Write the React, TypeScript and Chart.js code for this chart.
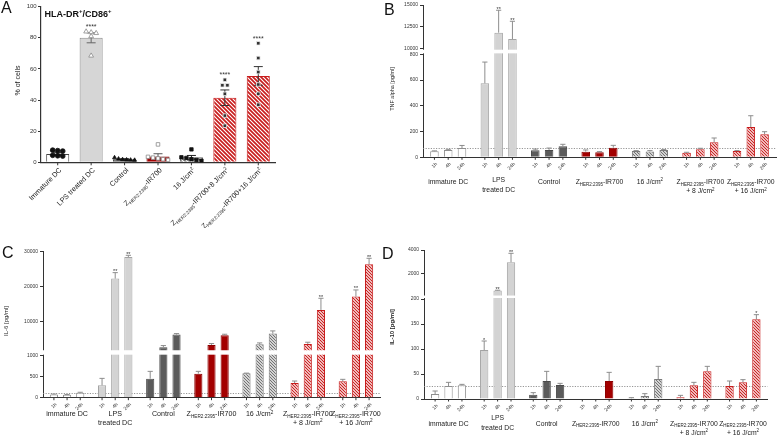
import React, { useEffect, useRef } from 'react';
import { Chart, registerables, LinearScale } from 'chart.js';

const FONT = 'Arial, "Liberation Sans", Helvetica, sans-serif';

// ---------------- Panel A data ----------------
const A_LABELS = [
  'Immature DC',
  'LPS treated DC',
  'Control',
  'Z_{HER2:2395}-IR700',
  '16 J/cm^{2}',
  'Z_{HER2:2395}-IR700+8 J/cm^{2}',
  'Z_{HER2:2395}-IR700+16 J/cm^{2}',
];
const A_MEAN = [5.3, 80, 2.0, 3.8, 3.2, 41.5, 55.5];
const A_SEM = [0.8, 3.2, 0.3, 1.7, 1.2, 5.0, 6.0];
const A_STARS = ['', '****', '', '', '', '****', '****'];
const A_PTS_IMMATURE = [7.8, 7.5, 7.2, 4.5, 4.2, 4.0];
const A_PTS_LPS = [84, 83.5, 83, 81, 68.5];
const A_PTS_CONTROL = [3.0, 2.2, 1.8, 1.6, 1.5, 1.4];
const A_PTS_ZHER = [11.5, 3.5, 3.0, 2.5, 2.0, 1.5];
const A_PTS_16J = [8.3, 3.2, 2.8, 2.0, 1.5, 1.0];
const A_PTS_ZHER_8J = [53, 49.5, 49.5, 44, 30, 23.5];
const A_PTS_ZHER_16J = [76.5, 67, 58, 50, 44, 37];
const A_POINTS = [A_PTS_IMMATURE, A_PTS_LPS, A_PTS_CONTROL, A_PTS_ZHER, A_PTS_16J, A_PTS_ZHER_8J, A_PTS_ZHER_16J];
const A_Y_MAX = 100;
const A_Y_STEP = 20;

// ---------------- Panels B-D common ----------------
const GROUPS = [
  'immature DC',
  'LPS\ntreated DC',
  'Control',
  'Z_{HER2:2395}-IR700',
  '16 J/cm^{2}',
  'Z_{HER2:2395}-IR700\n+ 8 J/cm^{2}',
  'Z_{HER2:2395}-IR700\n+ 16 J/cm^{2}',
];
const TIMES = ['1h', '4h', '24h'];

// B: TNF alpha
const TNF_1H = [47, 575, 54, 44, 49, 36, 49];
const TNF_4H = [57, 11835, 57, 39, 46, 62, 235];
const TNF_24H = [72, 11110, 85, 75, 57, 116, 179];
const TNF_ERR_1H = [3, 165, 10, 13, 3, 3, 3];
const TNF_ERR_4H = [5, 2565, 15, 5, 6, 8, 88];
const TNF_ERR_24H = [20, 2030, 16, 18, 3, 34, 20];
const TNF_STARS_1H = ['', '', '', '', '', '', ''];
const TNF_STARS_4H = ['', '**', '', '', '', '', ''];
const TNF_STARS_24H = ['', '**', '', '', '', '', ''];
const TNF_TICKS = [0, 200, 400, 600, 800, 10000, 12500, 15000];
const TNF_REF = 75;

// C: IL-6
const IL6_1H = [79, 294, 452, 572, 580, 349, 389];
const IL6_4H = [71, 22190, 2571, 3240, 3430, 3520, 17050];
const IL6_24H = [119, 28380, 6190, 6000, 6480, 13240, 26290];
const IL6_ERR_1H = [8, 166, 175, 55, 5, 48, 48];
const IL6_ERR_4H = [6, 1710, 480, 380, 380, 480, 1900];
const IL6_ERR_24H = [10, 480, 290, 290, 760, 3330, 1710];
const IL6_STARS_1H = ['', '', '', '', '', '', ''];
const IL6_STARS_4H = ['', '**', '', '', '', '', '**'];
const IL6_STARS_24H = ['', '**', '', '', '', '**', '**'];
const IL6_TICKS = [0, 500, 1000, 10000, 20000, 30000];
const IL6_REF = 119;

// D: IL-10
const IL10_1H = [10, 98, 8.7, 0, 1.3, 3.3, 26];
const IL10_4H = [26, 540, 36, 0.8, 6, 27.3, 33.3];
const IL10_24H = [27.3, 2958, 28, 36, 40, 55.3, 159.3];
const IL10_ERR_1H = [6, 18, 4, 0, 1.4, 4, 10];
const IL10_ERR_4H = [7.3, 30, 19.3, 0, 4.7, 6, 5.4];
const IL10_ERR_24H = [2, 760, 3.3, 17.3, 25.3, 10, 9.4];
const IL10_STARS_1H = ['', '*', '', '', '', '', ''];
const IL10_STARS_4H = ['', '**', '', '', '', '', ''];
const IL10_STARS_24H = ['', '**', '', '', '', '', '*'];
const IL10_TICKS = [0, 50, 100, 150, 200, 2000, 4000];
const IL10_REF = 26.7;

// ---------------- helpers ----------------
type Brk = { lowMax: number; highMin: number; highMax: number; lowFrac: number; gapFrac: number; ticks: number[] };

class BrokenScale extends (LinearScale as any) {
  static id = 'broken';
  static defaults = (LinearScale as any).defaults;
  brk(): Brk {
    return (this as any).chart.canvas.__brk;
  }
  toDec(v: number) {
    const b = this.brk();
    if (v <= b.lowMax) return (v / b.lowMax) * b.lowFrac;
    if (v < b.highMin) return b.lowFrac + (b.gapFrac * (v - b.lowMax)) / (b.highMin - b.lowMax);
    return b.lowFrac + b.gapFrac + ((v - b.highMin) / (b.highMax - b.highMin)) * (1 - b.lowFrac - b.gapFrac);
  }
  getPixelForValue(value: any) {
    if (value === null || value === undefined || Number.isNaN(+value)) return NaN;
    return (this as any).getPixelForDecimal(this.toDec(+value));
  }
  getValueForPixel(pixel: number) {
    const b = this.brk();
    const d = (this as any).getDecimalForPixel(pixel);
    if (d <= b.lowFrac) return (d / b.lowFrac) * b.lowMax;
    if (d < b.lowFrac + b.gapFrac) return b.lowMax;
    return b.highMin + ((d - b.lowFrac - b.gapFrac) / (1 - b.lowFrac - b.gapFrac)) * (b.highMax - b.highMin);
  }
  buildTicks() {
    return this.brk().ticks.map((v) => ({ value: v }));
  }
}

Chart.register(...registerables, BrokenScale as any);

function parseRich(s: string) {
  const out: { t: string; k: number }[] = [];
  let i = 0;
  let buf = '';
  while (i < s.length) {
    const c = s[i];
    if ((c === '_' || c === '^') && s[i + 1] === '{') {
      if (buf) {
        out.push({ t: buf, k: 0 });
        buf = '';
      }
      const end = s.indexOf('}', i + 2);
      out.push({ t: s.slice(i + 2, end), k: c === '_' ? 1 : 2 });
      i = end + 1;
    } else {
      buf += c;
      i++;
    }
  }
  if (buf) out.push({ t: buf, k: 0 });
  return out;
}

function drawRich(ctx: CanvasRenderingContext2D, s: string, x: number, y: number, size: number, align: string, weight = 'normal', color = '#222') {
  const segs = parseRich(s);
  const small = size * 0.66;
  let w = 0;
  for (const g of segs) {
    ctx.font = `${weight} ${g.k ? small : size}px ${FONT}`;
    w += ctx.measureText(g.t).width;
  }
  let cx = align === 'center' ? x - w / 2 : align === 'right' ? x - w : x;
  ctx.textAlign = 'left';
  ctx.textBaseline = 'alphabetic';
  ctx.fillStyle = color;
  for (const g of segs) {
    ctx.font = `${weight} ${g.k ? small : size}px ${FONT}`;
    const dy = g.k === 1 ? size * 0.25 : g.k === 2 ? -size * 0.4 : 0;
    ctx.fillText(g.t, cx, y + dy);
    cx += ctx.measureText(g.t).width;
  }
}

function hatch(ctx: CanvasRenderingContext2D, fg: string, size: number, lw: number) {
  const c = document.createElement('canvas');
  c.width = size;
  c.height = size;
  const g = c.getContext('2d')!;
  g.fillStyle = '#ffffff';
  g.fillRect(0, 0, size, size);
  g.strokeStyle = fg;
  g.lineWidth = lw;
  g.beginPath();
  for (const k of [-size, 0, size]) {
    g.moveTo(-1, -1 + k);
    g.lineTo(size + 1, size + 1 + k);
  }
  g.stroke();
  return ctx.createPattern(c, 'repeat')!;
}

function swarm(vals: number[], center: number, tol: number, step: number, maxSpan: number) {
  const sorted = [...vals].sort((a, b) => b - a);
  const rows: number[][] = [];
  for (const v of sorted) {
    const r = rows[rows.length - 1];
    if (r && Math.abs(r[0] - v) < tol) r.push(v);
    else rows.push([v]);
  }
  const out: { x: number; y: number }[] = [];
  for (const r of rows) {
    const s = r.length > 1 ? Math.min(step, maxSpan / (r.length - 1)) : 0;
    r.forEach((v, k) => out.push({ x: center + (k - (r.length - 1) / 2) * s, y: v }));
  }
  return out;
}

// ---------------- Panel A ----------------
const A_LAYOUT = { yW: 41, padTop: 6.7, padRight: 105, xH: 65.7 };

function buildA(canvas: HTMLCanvasElement) {
  const ctx = canvas.getContext('2d')!;
  const red = hatch(ctx, '#c81d1d', 4, 1.7);
  const gray = hatch(ctx, '#707070', 4, 1.7);
  const fills = ['#ffffff', '#d6d6d6', '#5c5c5c', '#a30000', gray, red, red];
  const borders = ['#444', '#8c8c8c', '#3a3a3a', '#7e0000', '#666', '#c81d1d', '#c81d1d'];
  const errColors = ['#222', '#666', '#222', '#555', '#222', '#333', '#333'];
  const styles = [
    { ps: 'circle', r: 2.4, bg: '#111', bc: '#111' },
    { ps: 'triangle', r: 2.8, bg: '#ffffff', bc: '#8a8a8a' },
    { ps: 'triangle', r: 2.3, bg: '#111', bc: '#111' },
    { ps: 'rect', r: 2.5, bg: '#ffffff', bc: '#8a8a8a' },
    { ps: 'rect', r: 2.4, bg: '#111', bc: '#111' },
    { ps: 'rect', r: 2.5, bg: '#333', bc: '#eeeeee' },
    { ps: 'rect', r: 2.5, bg: '#333', bc: '#eeeeee' },
  ];
  const scatter = A_POINTS.map((pts, i) => ({
    type: 'scatter',
    order: 0,
    data: swarm(pts, i, 2.6, 0.15, 0.6),
    pointStyle: styles[i].ps,
    pointRadius: styles[i].r,
    backgroundColor: styles[i].bg,
    borderColor: styles[i].bc,
    borderWidth: 0.8,
  }));
  const bar = {
    type: 'bar',
    order: 1,
    data: A_MEAN.map((v, i) => ({ x: i, y: v })),
    backgroundColor: fills,
    borderColor: borders,
    borderWidth: 1,
    borderSkipped: 'start',
    categoryPercentage: 1,
    barPercentage: 0.69,
  };
  const plugin = {
    id: 'aplug',
    afterDatasetDraw(chart: any, args: any) {
      if (args.meta.type !== 'bar') return;
      const c = chart.ctx;
      const ys = chart.scales.y;
      c.save();
      args.meta.data.forEach((el: any, j: number) => {
        const v = A_MEAN[j];
        const e = A_SEM[j];
        const t = ys.getPixelForValue(v + e);
        const b = ys.getPixelForValue(Math.max(0, v - e));
        c.strokeStyle = errColors[j];
        c.lineWidth = 1;
        c.beginPath();
        c.moveTo(el.x, b);
        c.lineTo(el.x, t);
        c.moveTo(el.x - 4.5, t);
        c.lineTo(el.x + 4.5, t);
        c.moveTo(el.x - 4.5, b);
        c.lineTo(el.x + 4.5, b);
        c.stroke();
      });
      c.restore();
    },
    afterDraw(chart: any) {
      const c = chart.ctx;
      const ys = chart.scales.y;
      const xs = chart.scales.x;
      const a = chart.chartArea;
      c.save();
      A_STARS.forEach((s, i) => {
        if (!s) return;
        const top = Math.min(ys.getPixelForValue(Math.max(...A_POINTS[i])), ys.getPixelForValue(A_MEAN[i] + A_SEM[i]));
        c.fillStyle = '#333';
        c.font = `7px ${FONT}`;
        c.textAlign = 'center';
        c.textBaseline = 'alphabetic';
        c.fillText(s, xs.getPixelForValue(i), top - 2.5);
      });
      A_LABELS.forEach((lab, i) => {
        const x = xs.getPixelForValue(i);
        c.strokeStyle = '#333';
        c.lineWidth = 1;
        c.beginPath();
        c.moveTo(x, a.bottom);
        c.lineTo(x, a.bottom + 3);
        c.stroke();
        c.save();
        c.translate(x + 2.5, a.bottom + 6.5);
        c.rotate(-Math.PI / 4);
        drawRich(c, lab, 0, 7.2 * 0.35, 7.2, 'right', 'normal', '#222');
        c.restore();
      });
      drawRich(c, 'HLA-DR^{+}/CD86^{+}', 44.5, 16.5, 9, 'left', 'bold', '#111');
      c.save();
      c.translate(18, 80.5);
      c.rotate(-Math.PI / 2);
      c.fillStyle = '#222';
      c.font = `7px ${FONT}`;
      c.textAlign = 'center';
      c.textBaseline = 'middle';
      c.fillText('% of cells', 0, 0);
      c.restore();
      c.restore();
    },
  };
  return new Chart(canvas, {
    type: 'bar',
    data: { datasets: [...scatter, bar] as any },
    options: {
      responsive: false,
      animation: false,
      devicePixelRatio: 1,
      events: [],
      layout: { padding: { left: 0, top: A_LAYOUT.padTop, right: A_LAYOUT.padRight, bottom: 0 } },
      plugins: { legend: { display: false }, tooltip: { enabled: false } },
      scales: {
        x: {
          type: 'linear',
          offset: false,
          min: -0.5,
          max: A_LABELS.length - 0.5,
          grid: { display: false },
          border: { display: true, color: '#333', width: 1.2 },
          ticks: { display: false },
          afterFit: (s: any) => {
            s.height = A_LAYOUT.xH;
          },
        },
        y: {
          type: 'linear',
          min: 0,
          max: A_Y_MAX,
          afterFit: (s: any) => {
            s.width = A_LAYOUT.yW;
          },
          grid: { display: true, drawOnChartArea: false, drawTicks: true, tickLength: 3, color: '#333' },
          border: { display: true, color: '#333', width: 1.2 },
          ticks: { stepSize: A_Y_STEP, font: { family: FONT, size: 6 }, color: '#333', padding: 1.3 },
        },
      },
    } as any,
    plugins: [plugin as any],
  });
}

// ---------------- Panels B-D ----------------
type PanelDef = {
  values: number[][];
  errors: number[][];
  stars: string[][];
  brk: Brk;
  refLine: number;
  title: string;
  L: {
    yW: number; padTop: number; padRight: number; xH: number;
    titleX: number; titleY: number; titleSize: number; titleBold: boolean;
    labelY: number; lineGap: number; lpsDy: number; labelSize: number;
  };
};

const B_DEF: PanelDef = {
  values: [TNF_1H, TNF_4H, TNF_24H],
  errors: [TNF_ERR_1H, TNF_ERR_4H, TNF_ERR_24H],
  stars: [TNF_STARS_1H, TNF_STARS_4H, TNF_STARS_24H],
  brk: { lowMax: 800, highMin: 10000, highMax: 15000, lowFrac: 0.676, gapFrac: 0.037, ticks: TNF_TICKS },
  refLine: TNF_REF,
  title: 'TNF alpha [pg/ml]',
  L: { yW: 43, padTop: 5, padRight: 3, xH: 57.7, titleX: 12.7, titleY: 89, titleSize: 5.5, titleBold: false, labelY: 181.5, lineGap: 9.5, lpsDy: -1.5, labelSize: 6.8 },
};

const C_DEF: PanelDef = {
  values: [IL6_1H, IL6_4H, IL6_24H],
  errors: [IL6_ERR_1H, IL6_ERR_4H, IL6_ERR_24H],
  stars: [IL6_STARS_1H, IL6_STARS_4H, IL6_STARS_24H],
  brk: { lowMax: 1000, highMin: 2000, highMax: 30000, lowFrac: 0.287, gapFrac: 0.044, ticks: IL6_TICKS },
  refLine: IL6_REF,
  title: 'IL-6 [pg/ml]',
  L: { yW: 43, padTop: 21.3, padRight: 10, xH: 38.3, titleX: 6, titleY: 91, titleSize: 6, titleBold: false, labelY: 184, lineGap: 8.5, lpsDy: 0, labelSize: 7.1 },
};

const D_DEF: PanelDef = {
  values: [IL10_1H, IL10_4H, IL10_24H],
  errors: [IL10_ERR_1H, IL10_ERR_4H, IL10_ERR_24H],
  stars: [IL10_STARS_1H, IL10_STARS_4H, IL10_STARS_24H],
  brk: { lowMax: 200, highMin: 200, highMax: 4000, lowFrac: 0.671, gapFrac: 0.03, ticks: IL10_TICKS },
  refLine: IL10_REF,
  title: 'IL-10 [pg/ml]',
  L: { yW: 44, padTop: 20, padRight: 11.5, xH: 37, titleX: 12, titleY: 97, titleSize: 6, titleBold: true, labelY: 193.3, lineGap: 9.5, lpsDy: -5.5, labelSize: 6.8 },
};

function grpPlugin(p: PanelDef) {
  return {
    id: 'grp',
    beforeDatasetsDraw(chart: any) {
      const { ctx, chartArea: a } = chart;
      const y = Math.round(chart.scales.y.getPixelForValue(p.refLine)) + 0.5;
      ctx.save();
      ctx.strokeStyle = '#8a8a8a';
      ctx.lineWidth = 0.9;
      ctx.setLineDash([1.2, 1.4]);
      ctx.beginPath();
      ctx.moveTo(a.left, y);
      ctx.lineTo(a.right, y);
      ctx.stroke();
      ctx.restore();
    },
    afterDatasetsDraw(chart: any) {
      const { ctx, chartArea: a } = chart;
      const ys = chart.scales.y;
      const xs = chart.scales.x;
      ctx.save();
      chart.data.datasets.forEach((ds: any, i: number) => {
        const meta = chart.getDatasetMeta(i);
        meta.data.forEach((el: any, j: number) => {
          const v = ds.data[j];
          const e = ds.errors[j];
          const top = ys.getPixelForValue(v + e);
          if (e > 0) {
            ctx.strokeStyle = '#8d8d8d';
            ctx.lineWidth = 1;
            ctx.beginPath();
            ctx.moveTo(el.x, el.y);
            ctx.lineTo(el.x, top);
            ctx.moveTo(el.x - 2.6, top);
            ctx.lineTo(el.x + 2.6, top);
            ctx.stroke();
          }
          if (ds.stars[j]) {
            ctx.fillStyle = '#333';
            ctx.font = `5.5px ${FONT}`;
            ctx.textAlign = 'center';
            ctx.textBaseline = 'alphabetic';
            ctx.fillText(ds.stars[j], el.x, top + 0.5);
          }
        });
      });
      const b = p.brk;
      const yLo = ys.getPixelForDecimal(b.lowFrac);
      const yHi = ys.getPixelForDecimal(b.lowFrac + b.gapFrac);
      ctx.fillStyle = '#ffffff';
      ctx.fillRect(a.left - 4, yHi + 1, a.right - a.left + 5, yLo - yHi - 2);
      chart.data.datasets.forEach((ds: any, i: number) => {
        const meta = chart.getDatasetMeta(i);
        meta.data.forEach((el: any) => {
          ctx.strokeStyle = '#333';
          ctx.lineWidth = 1;
          ctx.beginPath();
          ctx.moveTo(el.x, a.bottom);
          ctx.lineTo(el.x, a.bottom + 2.5);
          ctx.stroke();
          ctx.save();
          ctx.translate(el.x + 2, a.bottom + 6);
          ctx.rotate(-Math.PI / 4);
          ctx.fillStyle = '#333';
          ctx.font = `5px ${FONT}`;
          ctx.textAlign = 'right';
          ctx.textBaseline = 'middle';
          ctx.fillText(TIMES[i], 0, 0);
          ctx.restore();
        });
      });
      GROUPS.forEach((g, gi) => {
        const cx = xs.getPixelForValue(gi);
        const lines = g.split('\n');
        const y0 = p.L.labelY + (gi === 1 ? p.L.lpsDy : 0);
        lines.forEach((ln, li) => {
          drawRich(ctx, ln, cx, y0 + li * p.L.lineGap + p.L.labelSize * 0.35, p.L.labelSize, 'center', 'normal', '#222');
        });
      });
      ctx.save();
      ctx.translate(p.L.titleX, p.L.titleY);
      ctx.rotate(-Math.PI / 2);
      ctx.fillStyle = '#222';
      ctx.font = `${p.L.titleBold ? 'bold ' : ''}${p.L.titleSize}px ${FONT}`;
      ctx.textAlign = 'center';
      ctx.textBaseline = 'middle';
      ctx.fillText(p.title, 0, 0);
      ctx.restore();
      ctx.restore();
    },
  };
}

function buildGrouped(canvas: HTMLCanvasElement, p: PanelDef) {
  (canvas as any).__brk = p.brk;
  const ctx = canvas.getContext('2d')!;
  const red = hatch(ctx, '#c81d1d', 3, 1.15);
  const gray = hatch(ctx, '#6e6e6e', 3, 1.15);
  const fills = ['#ffffff', '#d3d3d3', '#5b5b5b', '#a30000', gray, red, red];
  const borders = ['#8f8f8f', '#a3a3a3', '#4a4a4a', '#8c0000', '#7a7a7a', '#c81d1d', '#c81d1d'];
  const datasets = TIMES.map((t, k) => ({
    label: t,
    data: p.values[k],
    errors: p.errors[k],
    stars: p.stars[k],
    backgroundColor: fills,
    borderColor: borders,
    borderWidth: 1,
    borderSkipped: 'start',
    categoryPercentage: 0.82,
    barPercentage: 0.62,
  }));
  const L = p.L;
  return new Chart(canvas, {
    type: 'bar',
    data: { labels: GROUPS, datasets: datasets as any },
    options: {
      responsive: false,
      animation: false,
      devicePixelRatio: 1,
      events: [],
      layout: { padding: { left: 0, top: L.padTop, right: L.padRight, bottom: 0 } },
      plugins: { legend: { display: false }, tooltip: { enabled: false } },
      scales: {
        x: {
          type: 'category',
          offset: true,
          grid: { display: false },
          border: { display: true, color: '#333', width: 1 },
          ticks: { display: false },
          afterFit: (s: any) => {
            s.height = L.xH;
          },
        },
        y: {
          type: 'broken',
          position: 'left',
          beginAtZero: true,
          afterFit: (s: any) => {
            s.width = L.yW;
          },
          grid: { display: true, drawOnChartArea: false, drawTicks: true, tickLength: 3, color: '#333' },
          border: { display: true, color: '#333', width: 1 },
          ticks: { autoSkip: false, font: { family: FONT, size: 5 }, color: '#333', padding: 2, callback: (v: any) => String(v) },
        },
      },
    } as any,
    plugins: [grpPlugin(p) as any],
  });
}

const letter = (t: string, left: number, top: number) => (
  <div style={{ position: 'absolute', left, top, fontSize: 16, lineHeight: '16px', fontFamily: FONT, color: '#111' }}>{t}</div>
);

export default function App() {
  const refA = useRef<HTMLCanvasElement>(null);
  const refB = useRef<HTMLCanvasElement>(null);
  const refC = useRef<HTMLCanvasElement>(null);
  const refD = useRef<HTMLCanvasElement>(null);
  useEffect(() => {
    const charts = [
      buildA(refA.current!),
      buildGrouped(refB.current!, B_DEF),
      buildGrouped(refC.current!, C_DEF),
      buildGrouped(refD.current!, D_DEF),
    ];
    return () => charts.forEach((c) => c.destroy());
  }, []);
  const cv = (ref: any, left: number, top: number, w: number, h: number) => (
    <canvas ref={ref} width={w} height={h} style={{ position: 'absolute', left, top, width: w, height: h }} />
  );
  return (
    <div style={{ position: 'fixed', left: 0, top: 0, width: 779, height: 436, background: '#fff', overflow: 'hidden' }}>
      {cv(refA, 0, 0, 380, 228)}
      {cv(refB, 380, 0, 399, 215)}
      {cv(refC, 0, 230, 390, 206)}
      {cv(refD, 380, 230, 399, 206)}
      {letter('A', 1, 0)}
      {letter('B', 384, 2)}
      {letter('C', 2, 245)}
      {letter('D', 382, 246)}
    </div>
  );
}
